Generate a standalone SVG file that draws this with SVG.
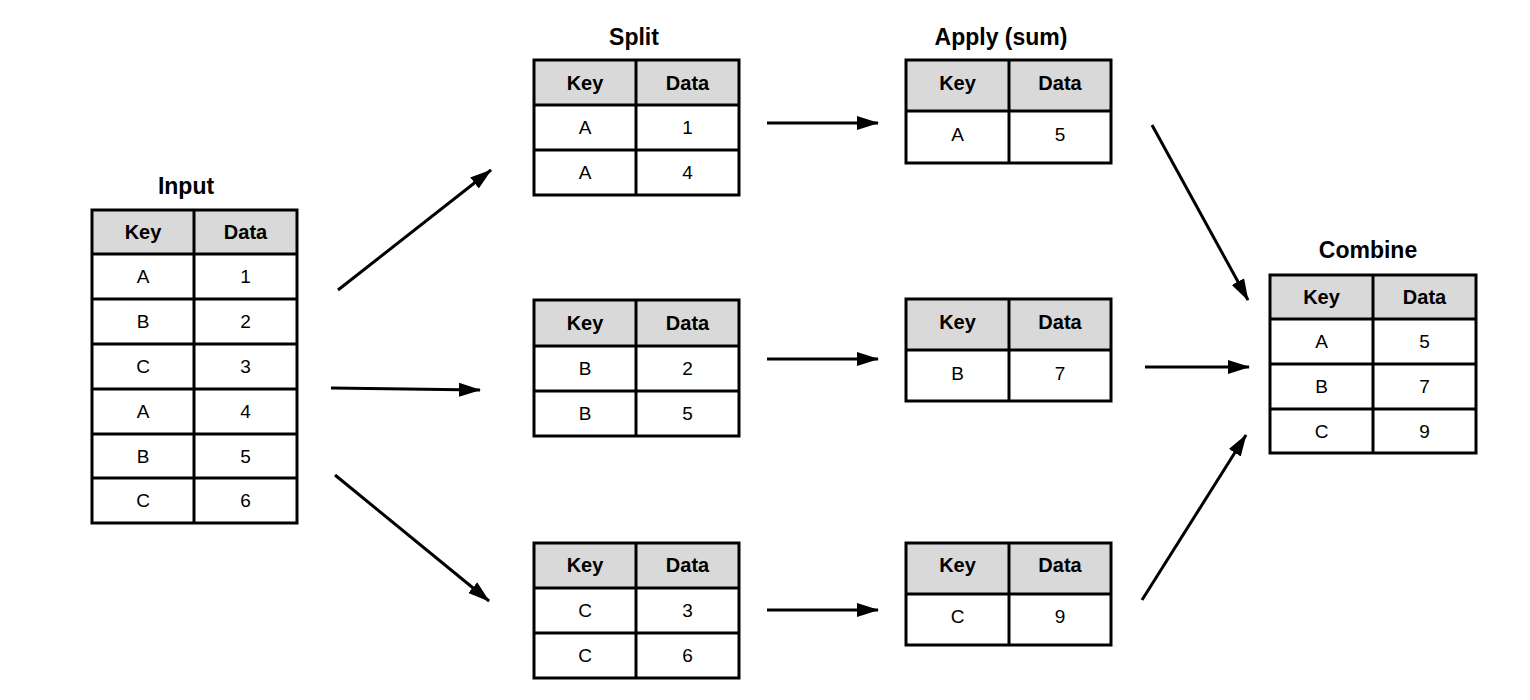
<svg xmlns="http://www.w3.org/2000/svg" width="1530" height="700" viewBox="0 0 1530 700">
<defs>
<style>
.hd{fill:#d9d9d9;stroke:none}
.bx{fill:none;stroke:#000;stroke-width:3}
.ln{stroke:#000;stroke-width:3}
.th{font-family:"Liberation Sans",Arial,sans-serif;font-size:20px;font-weight:bold;text-anchor:middle;fill:#000}
.td{font-family:"Liberation Sans",Arial,sans-serif;font-size:19px;text-anchor:middle;fill:#000}
.tt{font-family:"Liberation Sans",Arial,sans-serif;font-size:23px;font-weight:bold;text-anchor:middle;fill:#000}
.ar{stroke:#000;stroke-width:3;fill:none;marker-end:url(#ah)}
</style>
<marker id="ah" markerUnits="userSpaceOnUse" markerWidth="22" markerHeight="16" viewBox="0 0 22 16" refX="21" refY="8" orient="auto">
<path d="M0,1 L22,8 L0,15 Z" fill="#000"/>
</marker>
</defs>
<rect width="1530" height="700" fill="#fff"/>

<g id="input">
<text class="tt" x="186" y="194">Input</text>
<rect class="hd" x="92" y="210" width="205" height="44"/>
<rect class="bx" x="92" y="210" width="205" height="313"/>
<line class="ln" x1="194" y1="210" x2="194" y2="523"/>
<line class="ln" x1="92" y1="254" x2="297" y2="254"/>
<line class="ln" x1="92" y1="299" x2="297" y2="299"/>
<line class="ln" x1="92" y1="344" x2="297" y2="344"/>
<line class="ln" x1="92" y1="389" x2="297" y2="389"/>
<line class="ln" x1="92" y1="434" x2="297" y2="434"/>
<line class="ln" x1="92" y1="478" x2="297" y2="478"/>
<text class="th" x="143" y="239">Key</text><text class="th" x="245.5" y="239">Data</text>
<text class="td" x="143" y="283">A</text><text class="td" x="245.5" y="283">1</text>
<text class="td" x="143" y="328">B</text><text class="td" x="245.5" y="328">2</text>
<text class="td" x="143" y="373">C</text><text class="td" x="245.5" y="373">3</text>
<text class="td" x="143" y="418">A</text><text class="td" x="245.5" y="418">4</text>
<text class="td" x="143" y="463">B</text><text class="td" x="245.5" y="463">5</text>
<text class="td" x="143" y="507">C</text><text class="td" x="245.5" y="507">6</text>
</g>

<g id="split-a">
<text class="tt" x="634" y="45">Split</text>
<rect class="hd" x="534" y="60" width="205" height="45"/>
<rect class="bx" x="534" y="60" width="205" height="135"/>
<line class="ln" x1="636" y1="60" x2="636" y2="195"/>
<line class="ln" x1="534" y1="105" x2="739" y2="105"/>
<line class="ln" x1="534" y1="150" x2="739" y2="150"/>
<text class="th" x="585" y="90">Key</text><text class="th" x="687.5" y="90">Data</text>
<text class="td" x="585" y="134">A</text><text class="td" x="687.5" y="134">1</text>
<text class="td" x="585" y="179">A</text><text class="td" x="687.5" y="179">4</text>
</g>

<g id="split-b">
<rect class="hd" x="534" y="300" width="205" height="46"/>
<rect class="bx" x="534" y="300" width="205" height="136"/>
<line class="ln" x1="636" y1="300" x2="636" y2="436"/>
<line class="ln" x1="534" y1="346" x2="739" y2="346"/>
<line class="ln" x1="534" y1="391" x2="739" y2="391"/>
<text class="th" x="585" y="330">Key</text><text class="th" x="687.5" y="330">Data</text>
<text class="td" x="585" y="375">B</text><text class="td" x="687.5" y="375">2</text>
<text class="td" x="585" y="420">B</text><text class="td" x="687.5" y="420">5</text>
</g>

<g id="split-c">
<rect class="hd" x="534" y="543" width="205" height="45"/>
<rect class="bx" x="534" y="543" width="205" height="135"/>
<line class="ln" x1="636" y1="543" x2="636" y2="678"/>
<line class="ln" x1="534" y1="588" x2="739" y2="588"/>
<line class="ln" x1="534" y1="633" x2="739" y2="633"/>
<text class="th" x="585" y="572">Key</text><text class="th" x="687.5" y="572">Data</text>
<text class="td" x="585" y="617">C</text><text class="td" x="687.5" y="617">3</text>
<text class="td" x="585" y="662">C</text><text class="td" x="687.5" y="662">6</text>
</g>

<g id="apply-a">
<text class="tt" x="1001" y="45">Apply (sum)</text>
<rect class="hd" x="906" y="60" width="205" height="51"/>
<rect class="bx" x="906" y="60" width="205" height="103"/>
<line class="ln" x1="1009" y1="60" x2="1009" y2="163"/>
<line class="ln" x1="906" y1="111" x2="1111" y2="111"/>
<text class="th" x="957.5" y="90">Key</text><text class="th" x="1060" y="90">Data</text>
<text class="td" x="957.5" y="141">A</text><text class="td" x="1060" y="141">5</text>
</g>

<g id="apply-b">
<rect class="hd" x="906" y="299" width="205" height="51"/>
<rect class="bx" x="906" y="299" width="205" height="102"/>
<line class="ln" x1="1009" y1="299" x2="1009" y2="401"/>
<line class="ln" x1="906" y1="350" x2="1111" y2="350"/>
<text class="th" x="957.5" y="329">Key</text><text class="th" x="1060" y="329">Data</text>
<text class="td" x="957.5" y="380">B</text><text class="td" x="1060" y="380">7</text>
</g>

<g id="apply-c">
<rect class="hd" x="906" y="543" width="205" height="51"/>
<rect class="bx" x="906" y="543" width="205" height="102"/>
<line class="ln" x1="1009" y1="543" x2="1009" y2="645"/>
<line class="ln" x1="906" y1="594" x2="1111" y2="594"/>
<text class="th" x="957.5" y="572">Key</text><text class="th" x="1060" y="572">Data</text>
<text class="td" x="957.5" y="623">C</text><text class="td" x="1060" y="623">9</text>
</g>

<g id="combine">
<text class="tt" x="1368" y="258">Combine</text>
<rect class="hd" x="1270" y="275" width="206" height="44"/>
<rect class="bx" x="1270" y="275" width="206" height="178"/>
<line class="ln" x1="1373" y1="275" x2="1373" y2="453"/>
<line class="ln" x1="1270" y1="319" x2="1476" y2="319"/>
<line class="ln" x1="1270" y1="364" x2="1476" y2="364"/>
<line class="ln" x1="1270" y1="409" x2="1476" y2="409"/>
<text class="th" x="1321.5" y="304">Key</text><text class="th" x="1424.5" y="304">Data</text>
<text class="td" x="1321.5" y="348">A</text><text class="td" x="1424.5" y="348">5</text>
<text class="td" x="1321.5" y="393">B</text><text class="td" x="1424.5" y="393">7</text>
<text class="td" x="1321.5" y="438">C</text><text class="td" x="1424.5" y="438">9</text>
</g>

<g id="connectors">
<line class="ar" x1="338" y1="290" x2="491" y2="170"/>
<line class="ar" x1="331" y1="388" x2="480" y2="390"/>
<line class="ar" x1="335" y1="475" x2="489" y2="601"/>
<line class="ar" x1="767" y1="123" x2="878" y2="123"/>
<line class="ar" x1="767" y1="359" x2="878" y2="359"/>
<line class="ar" x1="767" y1="610" x2="878" y2="610"/>
<line class="ar" x1="1152" y1="125" x2="1248" y2="300"/>
<line class="ar" x1="1145" y1="367" x2="1249" y2="367"/>
<line class="ar" x1="1142" y1="600" x2="1246" y2="435"/>
</g>
</svg>
